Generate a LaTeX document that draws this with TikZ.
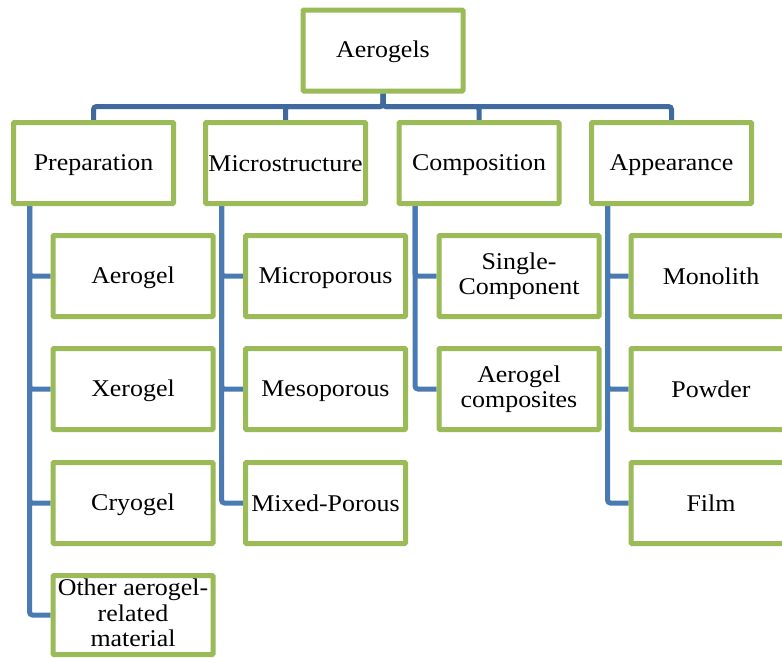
\documentclass[tikz,border=0pt]{standalone}
\usepackage{fontspec}
\setmainfont{Liberation Serif}[FakeStretch=1.08]
\usetikzlibrary{backgrounds}
\definecolor{boxgreen}{HTML}{9BBB59}
\definecolor{linkblue}{HTML}{4A7AB4}
\definecolor{busblue}{HTML}{3F6A9E}
\newcommand\boxstrut{\rule[-4pt]{0pt}{24pt}}
\tikzset{
  catbox/.style={draw=boxgreen, line width=5pt, fill=white, rounded corners=1pt,
    minimum width=160pt, minimum height=81pt, inner sep=1pt, align=center,
    font=\fontsize{24}{25.5}\selectfont,
    execute at begin node=\boxstrut, execute at end node=\boxstrut},
  link/.style={draw=linkblue, line width=5pt, rounded corners=3pt},
  buslink/.style={draw=busblue, line width=5pt, rounded corners=3pt}
}
\begin{document}
\begin{tikzpicture}[x=1pt,y=-1pt]
\useasboundingbox (0,0) rectangle (782,657);
% top
\node[catbox] (aero) at (383,50.5) {Aerogels};
% level 1
\node[catbox] (prep) at (93.5,163) {Preparation};
\node[catbox] (micro) at (285.5,163) {Microstructure};
\node[catbox] (comp) at (479,163) {Composition};
\node[catbox] (app) at (671.5,163) {Appearance};
% level 2: preparation
\node[catbox] (p1) at (133,276) {Aerogel};
\node[catbox] (p2) at (133,389) {Xerogel};
\node[catbox] (p3) at (133,503) {Cryogel};
\node[catbox, minimum height=79pt] (p4) at (133,615) {Other aerogel-\\related\\material};
% microstructure
\node[catbox] (m1) at (325.5,276) {Microporous};
\node[catbox] (m2) at (325.5,389) {Mesoporous};
\node[catbox] (m3) at (325.5,503) {Mixed-Porous};
% composition
\node[catbox] (c1) at (519,276) {Single-\\Component};
\node[catbox] (c2) at (519,389) {Aerogel\\composites};
% appearance
\node[catbox] (a1) at (711,276) {Monolith};
\node[catbox] (a2) at (711,389) {Powder};
\node[catbox] (a3) at (711,503) {Film};
\coordinate (bus) at (0,106.5);
\begin{scope}[on background layer]
  \foreach \k in {prep,micro,comp,app}
    \draw[buslink] (aero.south) -- (aero.south |- bus) -| (\k.north);
  \foreach \pn/\kids in {prep/{p1,p2,p3,p4}, micro/{m1,m2,m3}, comp/{c1,c2}, app/{a1,a2,a3}}
    \foreach \c in \kids
      \draw[link] ([xshift=18.5pt]\pn.south west) |- (\c.west);
\end{scope}
\end{tikzpicture}
\end{document}
